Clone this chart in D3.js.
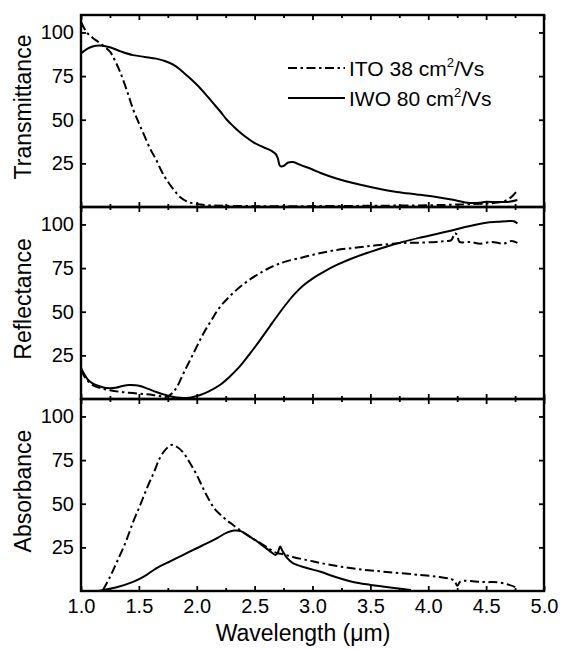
<!DOCTYPE html>
<html><head><meta charset="utf-8">
<script src="https://cdn.jsdelivr.net/npm/d3@7"></script>
<style>body{margin:0;background:#fff}text{font-family:"Liberation Sans",Arial,sans-serif;fill:#000}</style>
</head><body><svg id="c" width="561" height="650"></svg>
<script>
const panelTitles = ["Transmittance", "Reflectance", "Absorbance"];
const xMajor = [1.0, 1.5, 2.0, 2.5, 3.0, 3.5, 4.0, 4.5, 5.0];
const xMinor = [1.25, 1.75, 2.25, 2.75, 3.25, 3.75, 4.25, 4.75];
const yTicks = [25, 50, 75, 100];
const seriesNames = ["ITO 38 cm", "IWO 80 cm"];

const itoT = [[1.0,106],[1.05,100],[1.1,97],[1.16,94],[1.25,89],[1.3,83],[1.34,77],[1.4,66],[1.45,56],[1.5,48],[1.54,42],[1.6,33],[1.65,27],[1.7,20],[1.74,15.5],[1.8,10],[1.855,5.7],[1.92,3],[2.0,1.7],[2.1,1],[2.5,0.5],[3.0,0.5],[3.5,0.7],[4.0,1],[4.3,1.5],[4.5,2],[4.6,2.5],[4.68,4],[4.73,6.5],[4.77,9.5]];
const iwoT = [[1.0,88],[1.05,90.5],[1.1,92],[1.16,92.5],[1.25,91.5],[1.35,89],[1.45,87],[1.55,86],[1.65,85],[1.73,83.5],[1.8,81.4],[1.86,78.5],[1.91,75.6],[1.97,72],[2.03,68],[2.09,63.5],[2.14,59.6],[2.2,55],[2.26,50],[2.32,46],[2.37,43],[2.43,39.8],[2.49,37],[2.55,35],[2.6,33.6],[2.65,32],[2.68,30.5],[2.7,28],[2.72,23.5],[2.75,23.5],[2.79,25.5],[2.83,25.8],[2.9,24],[3.0,21.5],[3.07,19.5],[3.2,16.5],[3.35,13.7],[3.5,11.5],[3.73,8.6],[3.9,7.2],[4.07,5.7],[4.2,4.3],[4.36,2.3],[4.45,2.5],[4.5,3],[4.6,2.8],[4.7,3],[4.77,4]];
const itoR = [[1.0,16.6],[1.02,14],[1.05,11],[1.1,8],[1.18,6],[1.25,5],[1.35,4],[1.45,3.4],[1.55,2.8],[1.62,2.3],[1.7,1.5],[1.74,1.2],[1.79,3.5],[1.83,7],[1.88,14],[1.94,22],[2.0,30],[2.06,37.8],[2.13,45.5],[2.2,52.7],[2.28,58.5],[2.37,64],[2.47,69],[2.57,73],[2.63,75.2],[2.7,77.2],[2.78,79],[2.92,81.2],[3.06,83.5],[3.21,85.4],[3.35,86.5],[3.5,87.7],[3.65,88.6],[3.78,89.4],[3.9,89.5],[4.07,90],[4.15,90.5],[4.2,91],[4.23,95],[4.25,94],[4.27,90],[4.36,90],[4.45,89],[4.55,90],[4.65,89],[4.72,90.5],[4.77,89.4]];
const iwoR = [[1.0,17.8],[1.03,14],[1.06,11],[1.1,9],[1.16,7.3],[1.22,6.3],[1.3,6.5],[1.36,7.5],[1.42,8],[1.47,7.9],[1.51,7.4],[1.58,5.8],[1.65,4],[1.72,2.5],[1.8,1.2],[1.86,0.7],[1.91,0.6],[1.97,1.2],[2.03,2.3],[2.1,4.2],[2.2,8],[2.28,12.5],[2.37,18.5],[2.46,26],[2.55,34],[2.63,41.5],[2.7,48],[2.78,55],[2.85,60.5],[2.92,65],[3.0,69],[3.1,73],[3.21,76.8],[3.35,80.8],[3.5,84.3],[3.65,87.5],[3.78,90],[3.92,92.3],[4.07,94.5],[4.22,96.8],[4.35,99],[4.5,101],[4.6,101.5],[4.7,102],[4.74,101.8],[4.77,100.5]];
const itoA = [[1.19,0.6],[1.25,8],[1.31,16.6],[1.38,27],[1.45,39.5],[1.51,49],[1.57,59],[1.63,68],[1.68,76],[1.73,81],[1.78,83.7],[1.83,82.5],[1.88,79.6],[1.94,73.5],[2.0,66.5],[2.05,59.5],[2.1,53],[2.15,47.5],[2.2,44],[2.25,41],[2.3,38.5],[2.35,36],[2.45,31.5],[2.55,27.5],[2.63,24],[2.69,21.8],[2.75,21],[2.83,19.5],[3.0,17],[3.21,14.3],[3.4,12.5],[3.64,10.9],[3.93,9.2],[4.1,8],[4.2,6.8],[4.23,5.5],[4.25,3],[4.28,5.5],[4.4,5.5],[4.5,5.1],[4.6,5],[4.7,3.5],[4.77,1.7]];
const iwoA = [[1.15,0],[1.19,0.6],[1.3,2],[1.45,5.2],[1.55,8.5],[1.65,13],[1.77,17],[1.88,20.6],[2.0,24.5],[2.09,27.4],[2.18,30.5],[2.26,33.4],[2.32,34.6],[2.38,34.3],[2.46,31],[2.52,28.5],[2.57,26],[2.63,23],[2.68,20.6],[2.7,22],[2.72,25.5],[2.74,23],[2.78,19],[2.83,16],[2.95,13.2],[3.07,11],[3.2,8],[3.35,5.1],[3.5,3.5],[3.64,2.3],[3.78,1.1],[3.85,0.6]];

const panelData = [[itoT, iwoT], [itoR, iwoR], [itoA, iwoA]];

const svg = d3.select("#c");
const L = 81, R = 544, T0 = 15, PH = 192;
const x = d3.scaleLinear().domain([1, 5]).range([L, R]);
const DASH = "9,3.5,2.5,3.5";

panelData.forEach((pair, i) => {
  const top = T0 + i * PH, bot = top + PH;
  const y = d3.scaleLinear().domain([0, 110]).range([bot, top]);
  const g = svg.append("g");
  const cid = "clip" + i;
  svg.append("clipPath").attr("id", cid).append("rect")
    .attr("x", L).attr("y", top).attr("width", R - L).attr("height", PH);
  const line = d3.line().x(d => x(d[0])).y(d => y(d[1])).curve(d3.curveCatmullRom.alpha(0.5));
  g.append("path").datum(pair[0]).attr("d", line).attr("clip-path", `url(#${cid})`)
    .attr("fill", "none").attr("stroke", "#000").attr("stroke-width", 2).attr("stroke-dasharray", DASH);
  g.append("path").datum(pair[1]).attr("d", line).attr("clip-path", `url(#${cid})`)
    .attr("fill", "none").attr("stroke", "#000").attr("stroke-width", 2);

  const isLast = i === 2;
  const style = sel => { sel.select(".domain").remove(); sel.selectAll("line").attr("stroke", "#000").attr("stroke-width", 1.8); };
  const ab = g.append("g").attr("transform", `translate(0,${bot})`)
    .call(d3.axisBottom(x).tickValues(xMajor).tickSize(-5).tickPadding(8)
      .tickFormat(isLast ? d3.format(".1f") : () => ""));
  style(ab);
  ab.selectAll("text").attr("font-size", 20).attr("font-family", '"Liberation Sans",Arial,sans-serif');
  const abm = g.append("g").attr("transform", `translate(0,${bot})`)
    .call(d3.axisBottom(x).tickValues(xMinor).tickSize(-3).tickFormat(() => ""));
  style(abm);
  const at = g.append("g").attr("transform", `translate(0,${top})`)
    .call(d3.axisTop(x).tickValues(xMajor).tickSize(-5).tickFormat(() => ""));
  style(at);
  const atm = g.append("g").attr("transform", `translate(0,${top})`)
    .call(d3.axisTop(x).tickValues(xMinor).tickSize(-3).tickFormat(() => ""));
  style(atm);
  const al = g.append("g").attr("transform", `translate(${L},0)`)
    .call(d3.axisLeft(y).tickValues(yTicks).tickSize(-5).tickPadding(7));
  style(al);
  al.selectAll("text").attr("font-size", 20).attr("font-family", '"Liberation Sans",Arial,sans-serif');
  const ar = g.append("g").attr("transform", `translate(${R},0)`)
    .call(d3.axisRight(y).tickValues(yTicks).tickSize(-5).tickFormat(() => ""));
  style(ar);
  g.append("rect").attr("x", L).attr("y", top).attr("width", R - L).attr("height", PH)
    .attr("fill", "none").attr("stroke", "#000").attr("stroke-width", 2.4);
  g.append("text").attr("transform", `translate(31,${top + PH / 2 - 4}) rotate(-90)`)
    .attr("text-anchor", "middle").attr("font-size", 23).text(panelTitles[i]);
});

const xt = svg.append("text").attr("x", 303).attr("y", 641).attr("text-anchor", "middle").attr("font-size", 23);
xt.append("tspan").text("Wavelength (");
xt.append("tspan").text("μ");
xt.append("tspan").text("m)");

const legY = [68, 98];
seriesNames.forEach((name, k) => {
  svg.append("line").attr("x1", 288).attr("x2", 345).attr("y1", legY[k]).attr("y2", legY[k])
    .attr("stroke", "#000").attr("stroke-width", 2).attr("stroke-dasharray", k === 0 ? DASH : null);
  const t = svg.append("text").attr("x", 349).attr("y", legY[k] + 7.5).attr("font-size", 21);
  t.append("tspan").text(name);
  t.append("tspan").attr("font-size", 13).attr("dy", -9).text("2");
  t.append("tspan").attr("dy", 9).text("/Vs");
});
</script></body></html>
